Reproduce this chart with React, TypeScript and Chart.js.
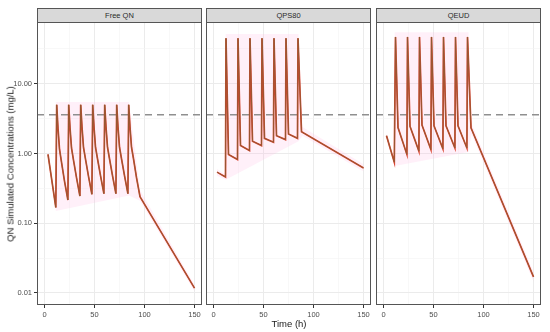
import React, { useEffect, useRef } from 'react';
import { Chart, registerables } from 'chart.js';
Chart.register(...registerables);

// ---------- data ----------
const PANEL_TITLES = ['Free QN', 'QPS80', 'QEUD'];
const THRESHOLD = 3.6;
const X_MIN = -7.5;
const X_MAX = 157.5;
const Y_MIN = 0.0067;
const Y_MAX = 77;
const X_TICKS = [0, 50, 100, 150];
const X_MINOR = [25, 75, 125];
const Y_TICKS = [0.01, 0.1, 1, 10];
const Y_TICK_LABELS = ['0.01', '0.10', '1.00', '10.00'];
const Y_MINOR = [0.0316, 0.316, 3.16, 31.6];

const FREE_T = [3.5, 11.3, 12.2, 13.5, 15, 17, 20, 23.4, 24.2, 25.5, 27, 29, 32, 35.4, 36.2, 37.5, 39, 41, 44, 47.4, 48.2, 49.5, 51, 53, 56, 59.4, 60.2, 61.5, 63, 65, 68, 71.4, 72.2, 73.5, 75, 77, 80, 83.4, 84.2, 85.5, 87, 89, 92, 95.5, 150];
const FREE_C = [0.97, 0.168, 5.0, 2.3, 1.15, 0.75, 0.4, 0.215, 5.0, 2.35, 1.2, 0.8, 0.45, 0.245, 5.0, 2.4, 1.22, 0.83, 0.47, 0.26, 5.0, 2.4, 1.23, 0.84, 0.48, 0.265, 5.0, 2.4, 1.23, 0.84, 0.48, 0.265, 5.0, 2.4, 1.23, 0.84, 0.48, 0.265, 5.0, 2.4, 1.23, 0.84, 0.45, 0.24, 0.0117];

const QPS_T = [3.5, 12, 12.5, 15, 24, 24.5, 27, 36, 36.5, 39, 48, 48.5, 51, 60, 60.5, 63, 72, 72.5, 75, 84, 84.5, 88, 150];
const QPS_C = [0.54, 0.46, 45, 0.97, 0.82, 45, 1.3, 1.1, 45, 1.5, 1.3, 45, 1.65, 1.45, 45, 1.8, 1.58, 45, 1.9, 1.65, 45, 2.05, 0.62];

const QEUD_T = [3, 10.8, 12, 14.5, 23.4, 24, 26.5, 35.4, 36, 38.5, 47.4, 48, 50.5, 59.4, 60, 62.5, 71.4, 72, 74.5, 83.4, 84, 87.5, 150];
const QEUD_C = [1.8, 0.75, 47, 2.35, 0.97, 47, 2.45, 1.08, 47, 2.55, 1.14, 47, 2.5, 1.17, 47, 2.5, 1.2, 47, 2.5, 1.2, 47, 2.33, 0.017];

// shaded band (faint pink) around the profiles
const FREE_RIB_T = [3.5, 11.2, 11.4, 84.5, 95.5, 150];
const FREE_RIB_HI = [1.1, 0.2, 5.5, 5.5, 0.3, 0.013];
const FREE_RIB_LO = [0.88, 0.15, 0.15, 0.25, 0.21, 0.0105];

const QPS_RIB_T = [3.5, 11.8, 12.2, 85, 89, 150];
const QPS_RIB_HI = [0.6, 0.5, 52, 52, 2.4, 0.7];
const QPS_RIB_LO = [0.48, 0.42, 0.42, 1.5, 1.8, 0.55];

const QEUD_RIB_T = [3, 10.6, 11.2, 85, 88, 150];
const QEUD_RIB_HI = [2.0, 0.85, 55, 55, 2.7, 0.02];
const QEUD_RIB_LO = [1.6, 0.66, 0.66, 1.05, 1.9, 0.0145];

const SERIES = [
  { t: FREE_T, c: FREE_C, rt: FREE_RIB_T, hi: FREE_RIB_HI, lo: FREE_RIB_LO },
  { t: QPS_T, c: QPS_C, rt: QPS_RIB_T, hi: QPS_RIB_HI, lo: QPS_RIB_LO },
  { t: QEUD_T, c: QEUD_C, rt: QEUD_RIB_T, hi: QEUD_RIB_HI, lo: QEUD_RIB_LO },
];

// ---------- style ----------
const FONT = '"Liberation Sans", Arial, sans-serif';
const GRID_MAJOR = '#EBEBEB';
const GRID_MINOR = '#F3F3F3';
const TICK_COLOR = '#333333';
const LABEL_COLOR = '#4D4D4D';
const FRAME_COLOR = '#555555';
const PANEL_LEFTS = [37, 206, 376];
const PANEL_W = 165;
const PLOT_TOP = 22;
const PLOT_BOTTOM = 305;
const PAGE_H = 332;

const pts = (xs: number[], ys: number[]) => xs.map((x, i) => ({ x, y: ys[i] }));
const isMajorX = (v: any) => X_TICKS.includes(v);
const isMajorY = (v: any) => typeof v === 'number' && Y_TICKS.some((t) => Math.abs(t - v) / t < 1e-6);

const framePlugin = {
  id: 'frame',
  afterDraw(chart: any) {
    const { ctx, chartArea: a } = chart;
    ctx.save();
    ctx.strokeStyle = FRAME_COLOR;
    ctx.lineWidth = 1;
    ctx.strokeRect(a.left + 0.5, a.top + 0.5, a.right - a.left - 1, a.bottom - a.top - 1);
    ctx.restore();
  },
};

function makeConfig(i: number, showY: boolean): any {
  const s = SERIES[i];
  return {
    type: 'line',
    data: {
      datasets: [
        { data: pts(s.rt, s.lo), borderWidth: 0, pointRadius: 0, fill: false, order: 10, borderColor: 'rgba(0,0,0,0)' },
        { data: pts(s.rt, s.hi), borderWidth: 0, pointRadius: 0, fill: '-1', order: 9, borderColor: 'rgba(0,0,0,0)', backgroundColor: 'rgba(255,180,225,0.2)' },
        { data: [{ x: X_MIN, y: THRESHOLD }, { x: X_MAX, y: THRESHOLD }], borderColor: '#8F8F8F', borderWidth: 1.5, borderDash: [7, 5], pointRadius: 0, fill: false, order: 5 },
        { data: pts(s.t, s.c), borderColor: '#D9432E', borderWidth: 1.7, pointRadius: 0, fill: false, tension: 0, order: 2 },
        { data: pts(s.t, s.c), borderColor: '#8E5A32', borderWidth: 0.9, pointRadius: 0, fill: false, tension: 0, order: 1 },
      ],
    },
    options: {
      animation: false,
      responsive: false,
      maintainAspectRatio: false,
      events: [],
      layout: { padding: { left: 0, right: 1, top: 0, bottom: 0 } },
      plugins: { legend: { display: false }, tooltip: { enabled: false } },
      scales: {
        x: {
          type: 'linear',
          min: X_MIN,
          max: X_MAX,
          bounds: 'data',
          afterBuildTicks: (sc: any) => {
            sc.ticks = [...X_TICKS, ...X_MINOR].sort((a, b) => a - b).map((v) => ({ value: v }));
          },
          afterFit: (sc: any) => {
            sc.height = PAGE_H - PLOT_BOTTOM;
            sc.paddingLeft = 0;
            sc.paddingRight = 0;
          },
          ticks: {
            autoSkip: false,
            maxRotation: 0,
            padding: 2,
            color: LABEL_COLOR,
            font: { family: FONT, size: 7.5 },
            callback: (v: any) => (isMajorX(v) ? String(v) : ''),
          },
          grid: {
            color: (c: any) => (isMajorX(c.tick && c.tick.value) ? GRID_MAJOR : GRID_MINOR),
            lineWidth: (c: any) => (isMajorX(c.tick && c.tick.value) ? 1 : 0.6),
            tickColor: (c: any) => (isMajorX(c.tick && c.tick.value) ? TICK_COLOR : 'rgba(0,0,0,0)'),
            tickWidth: 1,
            tickLength: 3,
          },
          border: { display: false },
        },
        y: {
          type: 'logarithmic',
          min: Y_MIN,
          max: Y_MAX,
          bounds: 'data',
          afterBuildTicks: (sc: any) => {
            sc.ticks = [...Y_TICKS, ...Y_MINOR].sort((a, b) => a - b).map((v) => ({ value: v }));
          },
          afterFit: (sc: any) => {
            sc.width = showY ? PANEL_LEFTS[0] : 0;
            sc.paddingTop = 0;
            sc.paddingBottom = 0;
          },
          ticks: {
            display: showY,
            autoSkip: false,
            padding: 2,
            color: LABEL_COLOR,
            font: { family: FONT, size: 7.5 },
            callback: (v: any) => {
              const k = Y_TICKS.findIndex((t) => Math.abs(t - v) / t < 1e-6);
              return k >= 0 ? Y_TICK_LABELS[k] : '';
            },
          },
          grid: {
            color: (c: any) => (isMajorY(c.tick && c.tick.value) ? GRID_MAJOR : GRID_MINOR),
            lineWidth: (c: any) => (isMajorY(c.tick && c.tick.value) ? 1 : 0.6),
            tickColor: (c: any) => (showY && isMajorY(c.tick && c.tick.value) ? TICK_COLOR : 'rgba(0,0,0,0)'),
            tickWidth: 1,
            tickLength: 3,
            drawTicks: showY,
          },
          border: { display: false },
        },
      },
    },
    plugins: [framePlugin],
  };
}

export default function App() {
  const r0 = useRef<HTMLCanvasElement>(null);
  const r1 = useRef<HTMLCanvasElement>(null);
  const r2 = useRef<HTMLCanvasElement>(null);

  useEffect(() => {
    const refs = [r0, r1, r2];
    const charts = refs.map((r, i) => new Chart(r.current as HTMLCanvasElement, makeConfig(i, i === 0)));
    return () => charts.forEach((c) => c.destroy());
  }, []);

  const canvasBox = (i: number): React.CSSProperties => {
    const left = i === 0 ? 0 : PANEL_LEFTS[i];
    const width = i === 0 ? PANEL_LEFTS[0] + PANEL_W + 1 : PANEL_W + 1;
    return { position: 'absolute', left, top: PLOT_TOP, width, height: PAGE_H - PLOT_TOP };
  };

  return (
    <div style={{ position: 'fixed', left: 0, top: 0, width: 550, height: PAGE_H, background: '#fff', fontFamily: FONT, overflow: 'hidden' }}>
      {PANEL_TITLES.map((t, i) => (
        <div
          key={t}
          style={{
            position: 'absolute',
            left: PANEL_LEFTS[i],
            top: 8,
            width: PANEL_W,
            height: 15,
            boxSizing: 'border-box',
            background: '#D9D9D9',
            border: `1px solid ${FRAME_COLOR}`,
            fontSize: 7.5,
            color: '#2A2A2A',
            textAlign: 'center',
            lineHeight: '13px',
          }}
        >
          {t}
        </div>
      ))}
      {[r0, r1, r2].map((r, i) => {
        const b = canvasBox(i);
        return (
          <div key={i} style={b}>
            <canvas ref={r} width={b.width as number} height={b.height as number} style={{ display: 'block', width: b.width, height: b.height }} />
          </div>
        );
      })}
      <div
        style={{
          position: 'absolute',
          left: 10,
          top: (PLOT_TOP + PLOT_BOTTOM) / 2,
          transform: 'translate(-50%, -50%) rotate(-90deg)',
          whiteSpace: 'nowrap',
          fontSize: 9.5,
          color: '#1A1A1A',
        }}
      >
        QN Simulated Concentrations (mg/L)
      </div>
      <div
        style={{
          position: 'absolute',
          left: 289,
          top: 323,
          transform: 'translate(-50%, -50%)',
          whiteSpace: 'nowrap',
          fontSize: 9.5,
          color: '#1A1A1A',
        }}
      >
        Time (h)
      </div>
    </div>
  );
}
